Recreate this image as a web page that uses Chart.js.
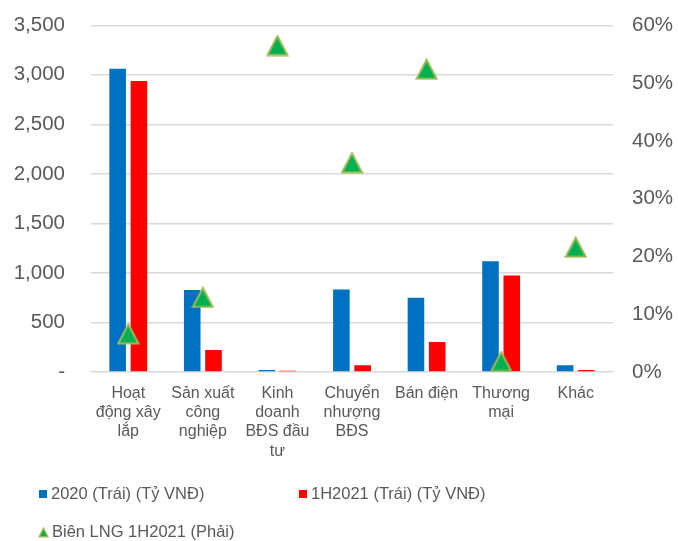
<!DOCTYPE html>
<html>
<head>
<meta charset="utf-8">
<script src="https://cdn.jsdelivr.net/npm/chart.js@4/dist/chart.umd.min.js"></script>
<style>
  html, body { margin: 0; padding: 0; background: #fff; overflow: hidden; }
  #wrap { position: relative; width: 678px; height: 541px; overflow: hidden; font-family: "Liberation Sans", Arial, sans-serif; }
  #c { position: absolute; left: 0; top: -13px; }
  .lg { position: absolute; font-size: 16.5px; color: #595959; white-space: nowrap; line-height: 20px; }
  .sw { display: inline-block; width: 8px; height: 8px; margin-right: 4px; vertical-align: 1px; }
  .tri { display: inline-block; margin-right: 3px; vertical-align: -1px; }
</style>
</head>
<body>
<div id="wrap">
  <canvas id="c" width="678" height="554"></canvas>
</div>
<script>
// Segments (multi-line category labels)
const categories = [
  ["Hoạt", "động xây", "lắp"],
  ["Sản xuất", "công", "nghiệp"],
  ["Kinh", "doanh", "BĐS đầu", "tư"],
  ["Chuyển", "nhượng", "BĐS"],
  ["Bán điện"],
  ["Thương", "mại"],
  ["Khác"]
];
// Revenue, billion VND (left axis)
const revenue2020 = [3061, 827, 20, 834, 749, 1119, 67];
const revenue1H2021 = [2937, 222, 12, 67, 302, 975, 20];
// Gross margin 1H2021, % (right axis)
const margin1H2021 = [6.6, 12.9, 56.5, 36.2, 52.4, 1.8, 21.6];

const seriesNames = ["2020 (Trái) (Tỷ VNĐ)", "1H2021 (Trái) (Tỷ VNĐ)", "Biên LNG 1H2021 (Phải)"];
const leftTicks = [0, 500, 1000, 1500, 2000, 2500, 3000, 3500];
const rightTicks = [0, 10, 20, 30, 40, 50, 60];

const BLUE = "#0070C0", RED = "#FF0000", GREEN = "#00B050", GREEN_EDGE = "#9BBB59";
const FONT = "'Liberation Sans', Arial, sans-serif";

// Triangle marker centred on its bounding box
function triangleImage(w, h, lw) {
  const cv = document.createElement("canvas");
  cv.width = w; cv.height = h;
  const g = cv.getContext("2d");
  g.beginPath();
  g.moveTo(w / 2, lw / 2 + 0.5);
  g.lineTo(w - lw / 2 - 0.5, h - lw / 2 - 0.5);
  g.lineTo(lw / 2 + 0.5, h - lw / 2 - 0.5);
  g.closePath();
  g.fillStyle = GREEN; g.fill();
  g.lineWidth = lw; g.lineJoin = "miter"; g.strokeStyle = GREEN_EDGE; g.stroke();
  return cv;
}
const markerImg = triangleImage(23, 22, 2);

const ctx = document.getElementById("c").getContext("2d");
new Chart(ctx, {
  type: "bar",
  data: {
    labels: categories,
    datasets: [
      { type: "bar", label: seriesNames[0], data: revenue2020, backgroundColor: BLUE, yAxisID: "y", order: 1,
        categoryPercentage: 0.57, barPercentage: 0.78 },
      { type: "bar", label: seriesNames[1], data: revenue1H2021, backgroundColor: RED, yAxisID: "y", order: 1,
        categoryPercentage: 0.57, barPercentage: 0.78 },
      { type: "line", label: seriesNames[2], data: margin1H2021, yAxisID: "y1", order: 0,
        showLine: false, pointStyle: markerImg, pointRadius: 11, pointHoverRadius: 11 }
    ]
  },
  options: {
    responsive: false,
    animation: false,
    layout: { padding: { top: 13, left: 0, right: 0, bottom: 0 } },
    plugins: { legend: { display: false }, tooltip: { enabled: false } },
    scales: {
      x: {
        grid: { display: false },
        border: { display: false },
        ticks: { color: "#595959", font: { family: FONT, size: 16, lineHeight: 1.2 }, padding: 4, maxRotation: 0, autoSkip: false },
        afterFit(s) { s.height = 169; }
      },
      y: {
        position: "left",
        min: 0, max: 3500,
        afterBuildTicks(s) { s.ticks = leftTicks.map(v => ({ value: v })); },
        grid: { color: "#D9D9D9", lineWidth: 1.5, drawTicks: false },
        border: { display: false },
        ticks: {
          color: "#595959", font: { family: FONT, size: 20.5 }, padding: 26,
          callback: v => v === 0 ? "-" : v.toLocaleString("en-US")
        },
        afterFit(s) { s.width = 91; }
      },
      y1: {
        position: "right",
        min: 0, max: 60,
        afterBuildTicks(s) { s.ticks = rightTicks.map(v => ({ value: v })); },
        grid: { display: false, drawTicks: false },
        border: { display: false },
        ticks: { color: "#595959", font: { family: FONT, size: 20.5 }, padding: 19, callback: v => v + "%" },
        afterFit(s) { s.width = 65; }
      }
    }
  }
});

// Legend built from the series names
const wrap = document.getElementById("wrap");
const legendItems = [
  { name: seriesNames[0], kind: "box", color: BLUE, left: 39, top: 483 },
  { name: seriesNames[1], kind: "box", color: RED, left: 299, top: 483 },
  { name: seriesNames[2], kind: "tri", left: 38, top: 521 }
];
legendItems.forEach(it => {
  const d = document.createElement("div");
  d.className = "lg";
  d.style.left = it.left + "px";
  d.style.top = it.top + "px";
  if (it.kind === "box") {
    const s = document.createElement("span");
    s.className = "sw"; s.style.background = it.color;
    d.appendChild(s);
  } else {
    const t = triangleImage(11, 11, 1.5);
    t.className = "tri";
    d.appendChild(t);
  }
  d.appendChild(document.createTextNode(it.name));
  wrap.appendChild(d);
});
</script>
</body>
</html>
